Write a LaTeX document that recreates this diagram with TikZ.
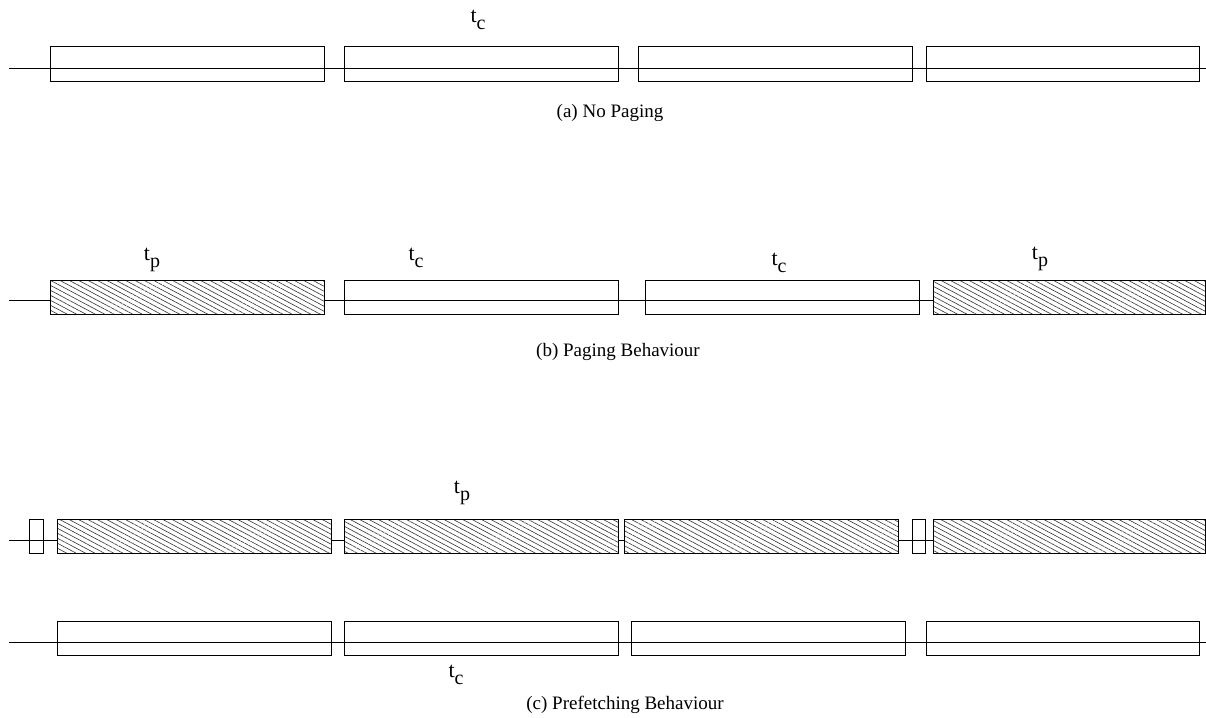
\documentclass[tikz,border=0pt]{standalone}
\usepackage{fontspec}
\setmainfont{Liberation Serif}
\usetikzlibrary{positioning, patterns.meta}
\definecolor{hatchgray}{HTML}{333333}

% time label: t with lowered index
\newcommand{\tlab}[1]{\fontsize{22}{24}\selectfont t\raisebox{-0.32em}{\fontsize{20}{22}\selectfont #1}}

\begin{document}
\begin{tikzpicture}[
  x=1pt, y=-1pt,
  font=\fontsize{19}{22}\selectfont,
  slot/.style={draw, line width=1pt, anchor=west, inner sep=0pt, outer sep=0pt,
    minimum width=274pt, minimum height=34pt},
  paged/.style={slot, preaction={fill=white},
    pattern={Lines[angle=-28, distance=4.4pt, line width=0.6pt]}, pattern color=hatchgray},
  tick/.style={slot, minimum width=14pt},
  axis/.style={line width=1pt},
  lab/.style={inner sep=0pt}
]
\useasboundingbox (0,0) rectangle (1206,717);

% (a) no paging
\coordinate (a0) at (9,68);
\coordinate (a9) at (1206,68);
\draw[axis] (a0) -- (a9);
\node[slot] (a1) at (50,64) {};
\node[slot] (a2) at (344,64) {};
\node[slot] (a3) at (638,64) {};
\node[slot, minimum width=273pt] (a4) at (926,64) {};
\node[lab] (atc) at (478,20) {\tlab{c}};
\node[lab] (acap) at (610,113) {(a) No Paging};

% (b) paging
\coordinate (b0) at (9,300);
\coordinate (b9) at (933,300);
\draw[axis] (b0) -- (b9);
\node[paged] (b1) at (50,297) {};
\node[slot] (b2) at (344,297) {};
\node[slot] (b3) at (645,297) {};
\node[paged, minimum width=272pt] (b4) at (933,297) {};
\node[lab] (btp1) at (152,260) {\tlab{p}};
\node[lab] (btc1) at (416,258) {\tlab{c}};
\node[lab] (btc2) at (779,263) {\tlab{c}};
\node[lab] (btp2) at (1040,259) {\tlab{p}};
\node[lab] (bcap) at (618,352) {(b) Paging Behaviour};

% (c) prefetching, paging stream
\coordinate (c0) at (9,540);
\coordinate (c9) at (933,540);
\draw[axis] (c0) -- (c9);
\node[tick] (cs1) at (29,536) {};
\node[paged] (c1) at (57,536) {};
\node[paged] (c2) at (344,536) {};
\node[paged] (c3) at (624,536) {};
\node[tick, minimum width=13pt] (cs2) at (912,536) {};
\node[paged, minimum width=272pt] (c4) at (933,536) {};
\node[lab] (ctp) at (462,493) {\tlab{p}};

% (c) prefetching, compute stream
\coordinate (d0) at (9,642);
\coordinate (d9) at (1206,642);
\draw[axis] (d0) -- (d9);
\node[slot] (d1) at (57,638.5) {};
\node[slot] (d2) at (344,638.5) {};
\node[slot] (d3) at (631,638.5) {};
\node[slot, minimum width=273pt] (d4) at (926,638.5) {};
\node[lab] (dtc) at (456,675) {\tlab{c}};
\node[lab] (ccap) at (625,705) {(c) Prefetching Behaviour};
\end{tikzpicture}
\end{document}
